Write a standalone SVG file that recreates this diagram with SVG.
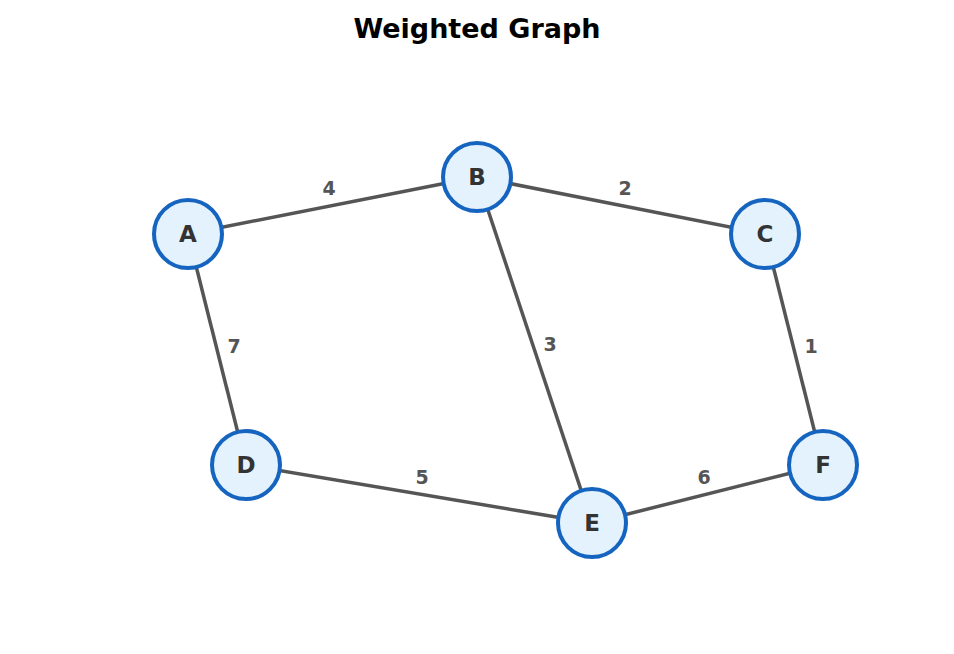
<svg xmlns="http://www.w3.org/2000/svg" width="954" height="654" viewBox="0 0 954 654">
<style>
.e{stroke:#555;stroke-width:3.5;fill:none}
.n circle{fill:#e3f2fd;stroke:#1565c0;stroke-width:4}
.n text{font-family:"DejaVu Sans",sans-serif;font-weight:bold;font-size:23px;fill:#333;text-anchor:middle;dominant-baseline:central}
.l{font-family:"DejaVu Sans",sans-serif;font-weight:bold;font-size:19px;fill:#555;text-anchor:middle;dominant-baseline:central}
</style>
<rect width="954" height="654" fill="#fff"/>
<text x="477" y="28" font-family="DejaVu Sans,sans-serif" font-weight="bold" font-size="27" text-anchor="middle" dominant-baseline="central" fill="#000">Weighted Graph</text>
<g id="connectors">
<line class="e" x1="188" y1="234" x2="477" y2="177"/>
<line class="e" x1="477" y1="177" x2="765" y2="234"/>
<line class="e" x1="188" y1="234" x2="246" y2="465"/>
<line class="e" x1="477" y1="177" x2="592" y2="523"/>
<line class="e" x1="765" y1="234" x2="823" y2="465"/>
<line class="e" x1="246" y1="465" x2="592" y2="523"/>
<line class="e" x1="592" y1="523" x2="823" y2="465"/>
<text class="l" x="329" y="188">4</text>
<text class="l" x="625" y="188">2</text>
<text class="l" x="234" y="346">7</text>
<text class="l" x="550" y="344">3</text>
<text class="l" x="811" y="346">1</text>
<text class="l" x="422" y="477">5</text>
<text class="l" x="704" y="477">6</text>
</g>
<g id="A" class="n"><circle cx="188" cy="234" r="34"/><text x="188" y="234">A</text></g>
<g id="B" class="n"><circle cx="477" cy="177" r="34"/><text x="477" y="177">B</text></g>
<g id="C" class="n"><circle cx="765" cy="234" r="34"/><text x="765" y="234">C</text></g>
<g id="D" class="n"><circle cx="246" cy="465" r="34"/><text x="246" y="465">D</text></g>
<g id="E" class="n"><circle cx="592" cy="523" r="34"/><text x="592" y="523">E</text></g>
<g id="F" class="n"><circle cx="823" cy="465" r="34"/><text x="823" y="465">F</text></g>
</svg>
